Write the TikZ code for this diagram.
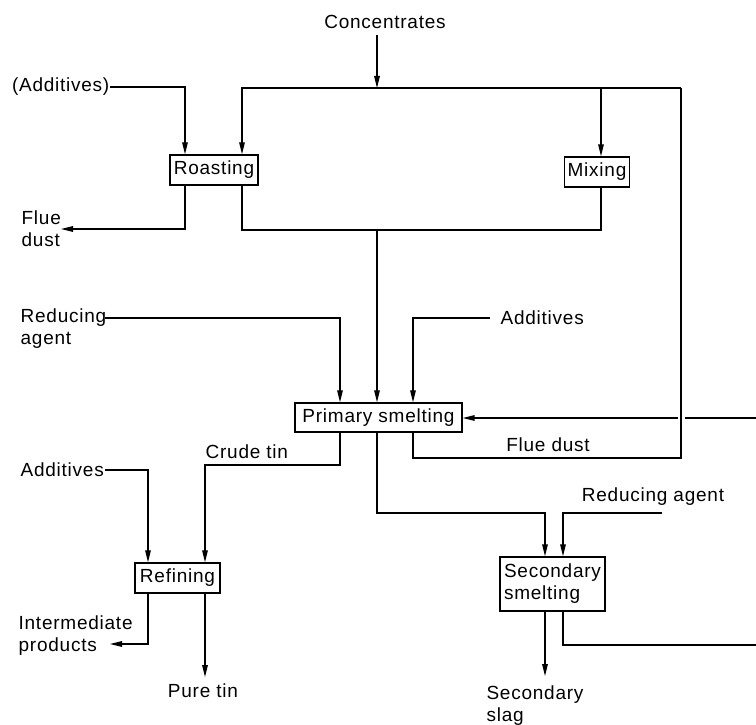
\documentclass[tikz,border=0pt]{standalone}
\usepackage{fontspec}
\setmainfont{Liberation Sans}[LetterSpace=4]
\usetikzlibrary{arrows.meta}
\newcommand\diafont{\fontsize{19}{22}\selectfont}
\begin{document}
\begin{tikzpicture}[x=1pt,y=-1pt,line width=1.3pt,
  box/.style={draw,line width=1.2pt,inner sep=0pt,font=\diafont,align=center},
  lbl/.style={font=\diafont,inner sep=0pt,align=left},
  arr/.style={-{Triangle[length=12pt,width=5.5pt]}}]
\useasboundingbox (0,0) rectangle (756,725);
% process boxes
\node[box,minimum width=88pt,minimum height=30pt] (roast) at (214,170) {Roasting};
\node[box,minimum width=65pt,minimum height=30pt] (mix) at (597,172) {Mixing};
\node[box,minimum width=167pt,minimum height=29pt] (prim) at (378.5,417.5) {Primary smelting};
\node[box,minimum width=85pt,minimum height=30pt] (ref) at (177.5,578) {Refining};
\node[box,minimum width=105pt,minimum height=54pt,align=left] (sec) at (552.5,584) {Secondary\\smelting};
% labels
\node[lbl] (conc) at (385,22) {Concentrates};
\node[lbl,anchor=east] (addA) at (110,87) {(Additives)};
\node[lbl,anchor=west] (flue1) at (21,229) {Flue\\dust};
\node[lbl,anchor=west] (redA) at (20,329) {Reducing\\agent};
\node[lbl,anchor=west] (addB) at (500,318) {Additives};
\node[lbl] (flue2) at (548,445) {Flue dust};
\node[lbl,anchor=west] (crude) at (205,452) {Crude tin};
\node[lbl,anchor=west] (addC) at (20,470) {Additives};
\node[lbl,anchor=west] (inter) at (18,636) {Intermediate\\products};
\node[lbl] (pure) at (203,691) {Pure tin};
\node[lbl] (redB) at (653,497) {Reducing agent};
\node[lbl,align=left] (slag) at (535,706) {Secondary\\slag};
% junction coordinates
\coordinate (ca) at (185,87);
\coordinate (b1) at (242,88);
\coordinate (cj) at (377,88);
\coordinate (b2) at (601,88);
\coordinate (b3) at (681,88);
\coordinate (fdA) at (185,229);
\coordinate (fdtip) at (61,229);
\coordinate (m1) at (242,230);
\coordinate (mj) at (377,230);
\coordinate (m2) at (601,230);
\coordinate (rA0) at (105,318);
\coordinate (rA) at (340,318);
\coordinate (aB0) at (490,318);
\coordinate (aB) at (413,318);
\coordinate (rin) at (756,418);
\coordinate (gapR) at (684.5,418);
\coordinate (gapL) at (677.5,418);
\coordinate (fd1) at (413,458);
\coordinate (fd2) at (681,458);
\coordinate (ct1) at (340,465);
\coordinate (ct2) at (205,465);
\coordinate (ac0) at (105,470);
\coordinate (ac) at (148,470);
\coordinate (ip) at (148,644);
\coordinate (iptip) at (110,644);
\coordinate (pt) at (205,677);
\coordinate (s1) at (377,513);
\coordinate (s2) at (545,513);
\coordinate (r1) at (662,513);
\coordinate (r2) at (563,513);
\coordinate (sl) at (545,676);
\coordinate (so1) at (563,645);
\coordinate (so2) at (756,645);
% connectors
\draw[arr] ([yshift=-6pt]conc.south -| cj) -- (cj);
\draw[arr] (addA.east) -- (ca) -- (roast.north -| ca);
\draw[arr] (b2) -- (b1) -- (roast.north -| b1);
\draw[arr] (b3) -- (b2) -- (mix.north -| b2);
\draw[arr] (roast.south -| fdA) -- (fdA) -- (fdtip);
\draw (roast.south -| m1) -- (m1) -- (m2) -- (mix.south -| m2);
\draw[arr] (mj) -- (prim.north -| mj);
\draw[arr] (rA0) -- (rA) -- (prim.north -| rA);
\draw[arr] (aB0) -- (aB) -- (prim.north -| aB);
\draw (rin) -- (gapR);
\draw[arr] (gapL) -- (prim.east |- gapL);
\draw (prim.south -| fd1) -- (fd1) -- (fd2) -- (b3);
\draw[arr] (prim.south -| ct1) -- (ct1) -- (ct2) -- (ref.north -| ct2);
\draw[arr] (ac0) -- (ac) -- (ref.north -| ac);
\draw[arr] (ref.south -| ip) -- (ip) -- (iptip);
\draw[arr] (ref.south -| pt) -- (pt);
\draw[arr] (prim.south -| s1) -- (s1) -- (s2) -- (sec.north -| s2);
\draw[arr] (r1) -- (r2) -- (sec.north -| r2);
\draw[arr] (sec.south -| sl) -- (sl);
\draw (sec.south -| so1) -- (so1) -- (so2);
\end{tikzpicture}
\end{document}
